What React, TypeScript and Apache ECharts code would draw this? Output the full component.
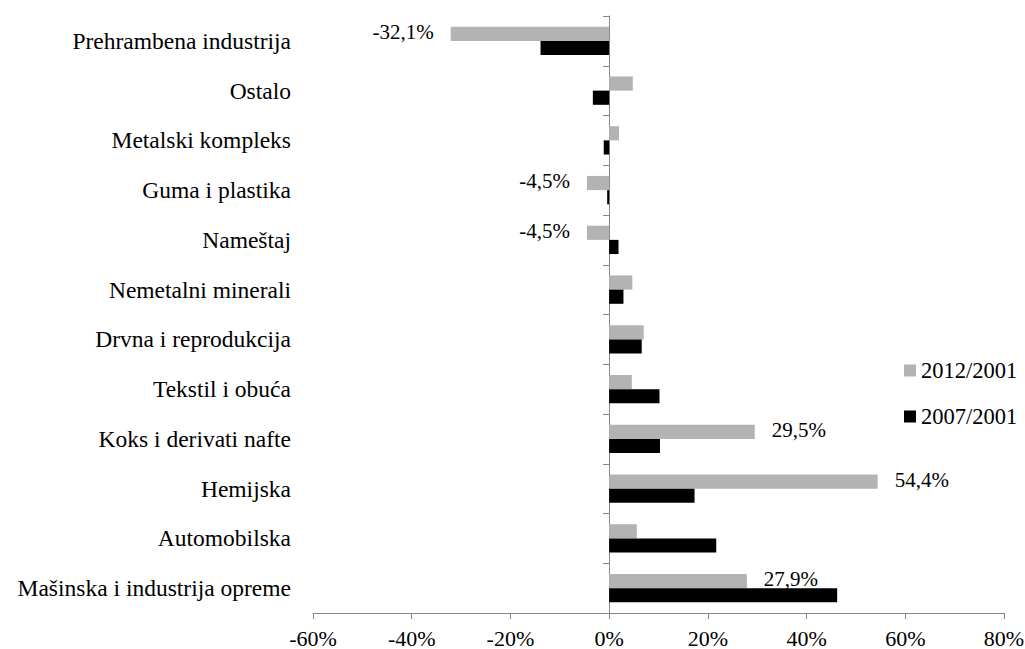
import React, { useEffect, useRef } from "react";
import * as echarts from "echarts";

const categories = [
  "Prehrambena industrija",
  "Ostalo",
  "Metalski kompleks",
  "Guma i plastika",
  "Nameštaj",
  "Nemetalni minerali",
  "Drvna i reprodukcija",
  "Tekstil i obuća",
  "Koks i derivati nafte",
  "Hemijska",
  "Automobilska",
  "Mašinska i industrija opreme",
];

const values2012 = [-32.1, 4.8, 2.0, -4.5, -4.5, 4.7, 7.0, 4.6, 29.5, 54.4, 5.6, 27.9];
const values2007 = [-13.9, -3.3, -1.1, -0.4, 1.9, 2.9, 6.6, 10.2, 10.3, 17.3, 21.7, 46.2];
const labeled2012 = [true, false, false, true, true, false, false, false, true, true, false, true];

const xTicks = { min: -60, max: 80, interval: 20 };
const seriesNames = ["2012/2001", "2007/2001"];

const FONT = "'Liberation Serif', 'Times New Roman', serif";

export default function App() {
  const ref = useRef<HTMLDivElement>(null);
  useEffect(() => {
    document.body.style.margin = "0";
    const chart = echarts.init(ref.current!, null, { renderer: "svg" });
    const fmt = (v: number) => v.toFixed(1).replace(".", ",") + "%";
    chart.setOption({
      animation: false,
      backgroundColor: "#ffffff",
      textStyle: { fontFamily: FONT },
      grid: {
        left: 313,
        right: 21,
        top: 16,
        bottom: 36,
        containLabel: false,
        outerBoundsMode: "none",
      },
      legend: {
        orient: "vertical",
        left: 904,
        top: 359,
        padding: 0,
        itemWidth: 12,
        itemHeight: 12,
        itemGap: 23,
        icon: "rect",
        data: seriesNames,
        textStyle: { fontFamily: FONT, fontSize: 22.5, color: "#000" },
      },
      xAxis: {
        type: "value",
        min: xTicks.min,
        max: xTicks.max,
        interval: xTicks.interval,
        splitLine: { show: false },
        axisLine: { show: true, lineStyle: { color: "#868686", width: 1 } },
        axisTick: { show: true, length: 6, lineStyle: { color: "#868686" } },
        axisLabel: {
          formatter: (v: number) => v + "%",
          fontFamily: FONT,
          fontSize: 22,
          color: "#000",
          margin: 14,
          hideOverlap: false,
        },
      },
      yAxis: {
        type: "category",
        inverse: true,
        data: categories,
        axisLine: { show: true, onZero: true, lineStyle: { color: "#868686", width: 1 } },
        axisTick: { show: true, length: 6, lineStyle: { color: "#868686" } },
        axisLabel: {
          fontFamily: FONT,
          fontSize: 23.5,
          color: "#000",
          margin: 22,
        },
      },
      series: [
        {
          name: seriesNames[0],
          type: "bar",
          data: values2012.map((v, i) => ({
            value: v,
            label: {
              show: labeled2012[i],
              position: v < 0 ? "left" : "right",
            },
          })),
          itemStyle: { color: "#b3b3b3" },
          barGap: "0%",
          barCategoryGap: "43%",
          label: {
            formatter: (p: any) => fmt(p.value),
            fontFamily: FONT,
            fontSize: 21,
            color: "#000",
            distance: 17,
            offset: [0, -2],
          },
        },
        {
          name: seriesNames[1],
          type: "bar",
          data: values2007,
          itemStyle: { color: "#000000" },
          barGap: "0%",
          barCategoryGap: "43%",
        },
      ],
    });
    return () => chart.dispose();
  }, []);
  return <div ref={ref} style={{ width: 1025, height: 649 }} />;
}
